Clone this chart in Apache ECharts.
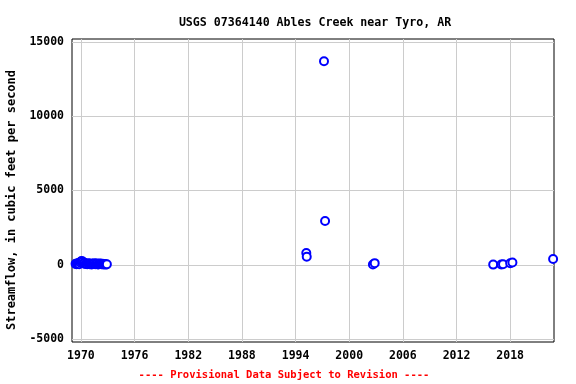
<!DOCTYPE html>
<html>
<head>
<meta charset="utf-8">
<script src="https://cdn.jsdelivr.net/npm/echarts@6/dist/echarts.min.js"></script>
<style>html,body{margin:0;padding:0;background:#fff;}#c{width:576px;height:384px;}</style>
</head>
<body>
<div id="c"></div>
<script>
// Decimal year of each measurement
const years = [
  1969.4, 1969.5, 1969.6, 1969.7, 1969.8, 1969.9, 1970.0, 1970.1, 1970.2, 1970.3,
  1970.4, 1970.5, 1970.6, 1970.7, 1970.8, 1970.9, 1971.0, 1971.1, 1971.2, 1971.3,
  1971.4, 1971.5, 1971.6, 1971.7, 1971.8, 1971.9, 1972.0, 1972.1, 1972.2, 1972.3,
  1972.4, 1972.5, 1972.6, 1972.7, 1972.8, 1972.9,
  1995.2, 1995.25, 1997.18, 1997.3, 2002.65, 2002.85,
  2016.1, 2017.0, 2017.2, 2018.0, 2018.25, 2022.8
];
// Streamflow, cubic feet per second
const flows = [
  60, 30, 90, 120, 40, 150, 220, 260, 180, 90,
  140, 50, 70, 30, 110, 60, 40, 90, 20, 70,
  50, 100, 30, 60, 80, 20, 40, 90, 60, 30,
  70, 20, 50, 40, 10, 30,
  790, 540, 13700, 2950, 20, 110,
  10, 20, 40, 100, 150, 390
];
const xTicks = [1970, 1976, 1982, 1988, 1994, 2000, 2006, 2012, 2018];
const yTicks = [-5000, 0, 5000, 10000, 15000];
const titleText = 'USGS 07364140 Ables Creek near Tyro, AR';
const yName = 'Streamflow, in cubic feet per second';
const footer = '---- Provisional Data Subject to Revision ----';

const font = 'DejaVu Sans Mono';
const chart = echarts.init(document.getElementById('c'));
chart.setOption({
  animation: false,
  backgroundColor: '#fff',
  title: {
    text: titleText, left: 310, top: 12, textAlign: 'center',
    textStyle: {fontFamily: font, fontWeight: 'bold', fontSize: 11.6, color: '#000'}
  },
  grid: {left: 72, top: 39, right: 22, bottom: 42, show: true, borderColor: '#000', borderWidth: 1, backgroundColor: 'transparent'},
  xAxis: {
    type: 'value', min: 1969.0, max: 2022.9,
    axisLine: {show: false},
    axisTick: {show: false, customValues: xTicks},
    axisLabel: {customValues: xTicks, margin: 8, formatter: v => String(v), fontFamily: font, fontWeight: 'bold', fontSize: 11.5, color: '#000'},
    splitLine: {show: true, lineStyle: {color: '#cccccc', width: 1}}
  },
  yAxis: {
    type: 'value', min: -5200, max: 15200,
    axisLine: {show: false},
    axisTick: {show: false, customValues: yTicks},
    axisLabel: {customValues: yTicks, margin: 8, formatter: v => String(v), fontFamily: font, fontWeight: 'bold', fontSize: 11.5, color: '#000'},
    splitLine: {show: true, lineStyle: {color: '#cccccc', width: 1}}
  },
  graphic: [
    {type: 'text', x: 12, y: 200, rotation: Math.PI / 2,
      style: {text: yName, fill: '#000', font: 'bold 12px "DejaVu Sans Mono"', align: 'center', verticalAlign: 'middle'}},
    {type: 'text', x: 284, y: 375,
      style: {text: footer, fill: '#ff0000', font: 'bold 10.5px "DejaVu Sans Mono"', align: 'center', verticalAlign: 'middle'}}
  ],
  series: [{
    type: 'scatter',
    data: years.map((y, i) => [y, flows[i]]),
    symbol: 'emptyCircle', symbolSize: 8,
    itemStyle: {color: '#0000ff', borderColor: '#0000ff', borderWidth: 1.5, opacity: 1},
    clip: false
  }]
});
</script>
</body>
</html>
